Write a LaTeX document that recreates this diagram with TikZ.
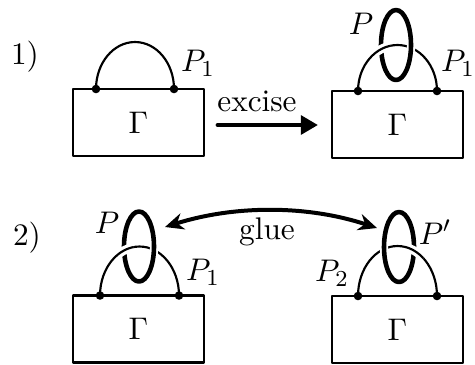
\documentclass[tikz,border=0pt,11pt]{standalone}
\usepackage{amsmath,amssymb}
\usetikzlibrary{arrows.meta}
\begin{document}
\begin{tikzpicture}[x=0.35pt, y=-0.35pt, line join=round, line cap=round,
  gbox/.style={draw, line width=0.9pt, minimum width=45.85pt, minimum height=23.45pt, inner sep=0pt},
  strand/.style={line width=0.75pt},
  ring/.style={line width=1.6pt},
  ringhalo/.style={white, line width=2.9pt},
  strandhalo/.style={white, line width=3pt},
  bigarrow/.style={line width=1.7pt, -{Triangle[length=6pt, width=6.5pt]}},
  gluearrow/.style={line width=1.4pt, {Stealth[length=6.5pt, width=5.8pt]}-{Stealth[length=6.5pt, width=5.8pt]}}]
\useasboundingbox (0,0) rectangle (475,364);
\node[gbox] (G1) at (138.5,122.5) {$\Gamma$};
\node[gbox] (G2) at (397.5,124.5) {$\Gamma$};
\node[gbox] (G3) at (138.5,329) {$\Gamma$};
\node[gbox] (G4) at (397.5,329.5) {$\Gamma$};
\coordinate (a1) at (96,89);
\coordinate (b1) at (174,89);
\coordinate (t1) at (135,42);
\coordinate (a2) at (358,91);
\coordinate (b2) at (437,91);
\coordinate (t2) at (397.5,45);
\coordinate (a3) at (100,295.5);
\coordinate (b3) at (179,295.5);
\coordinate (t3) at (139.5,246.5);
\coordinate (a4) at (358,296);
\coordinate (b4) at (437,296);
\coordinate (t4) at (397.5,246);
\coordinate (R1) at (396,45);
\coordinate (R2) at (139,246.5);
\coordinate (R3) at (399,247);
\coordinate (e1) at (218,125);
\coordinate (e2) at (318,125);
\coordinate (gl) at (165,227);
\coordinate (gr) at (377,228);
\draw[strand] (a1) .. controls +(0,-26) and +(-21.5,0) .. (t1) .. controls +(21.5,0) and +(0,-26) .. (b1);
\draw[strand] (a2) .. controls +(0,-25.4) and +(-21.8,0) .. (t2) .. controls +(21.8,0) and +(0,-25.4) .. (b2);
\draw[strand] (a3) .. controls +(0,-27) and +(-21.8,0) .. (t3) .. controls +(21.8,0) and +(0,-27) .. (b3);
\draw[strand] (a4) .. controls +(0,-27.6) and +(-21.8,0) .. (t4) .. controls +(21.8,0) and +(0,-27.6) .. (b4);
\draw[ringhalo] (R1) ellipse [x radius=5.25pt, y radius=12.25pt];
\draw[ring] (R1) ellipse [x radius=5.25pt, y radius=12.25pt];
\draw[ringhalo] (R2) ellipse [x radius=5.25pt, y radius=12.25pt];
\draw[ring] (R2) ellipse [x radius=5.25pt, y radius=12.25pt];
\draw[ringhalo] (R3) ellipse [x radius=5.25pt, y radius=12.25pt];
\draw[ring] (R3) ellipse [x radius=5.25pt, y radius=12.25pt];
\begin{scope}
\clip (372,38) rectangle (390,60);
\draw[strandhalo] (a2) .. controls +(0,-25.4) and +(-21.8,0) .. (t2);
\draw[strand] (a2) .. controls +(0,-25.4) and +(-21.8,0) .. (t2);
\end{scope}
\begin{scope}
\clip (115,239) rectangle (133,262);
\draw[strandhalo] (a3) .. controls +(0,-27) and +(-21.8,0) .. (t3);
\draw[strand] (a3) .. controls +(0,-27) and +(-21.8,0) .. (t3);
\end{scope}
\begin{scope}
\clip (405,239) rectangle (423,262);
\draw[strandhalo] (t4) .. controls +(21.8,0) and +(0,-27.6) .. (b4);
\draw[strand] (t4) .. controls +(21.8,0) and +(0,-27.6) .. (b4);
\end{scope}
\foreach \p in {a1,b1,a2,b2,a3,b3,a4,b4}
  \fill (\p) circle [radius=1.5pt];
\draw[bigarrow] (e1) -- (e2);
\draw[gluearrow] (gl) .. controls (235,205) and (307,205) .. (gr);
\node (n1) at (25,57) {1)};
\node (n2) at (27,238) {2)};
\node (p1) at (198,63) {$P_1$};
\node (ex) at (257,101) {excise};
\node (p2) at (361,24) {$P$};
\node (p3) at (458,63) {$P_1$};
\node (p4) at (107,223) {$P$};
\node (p5) at (203,272) {$P_1$};
\node (gu) at (267,232) {glue};
\node (p6) at (435,232) {$P'$};
\node (p7) at (332,273) {$P_2$};
\end{tikzpicture}
\end{document}
